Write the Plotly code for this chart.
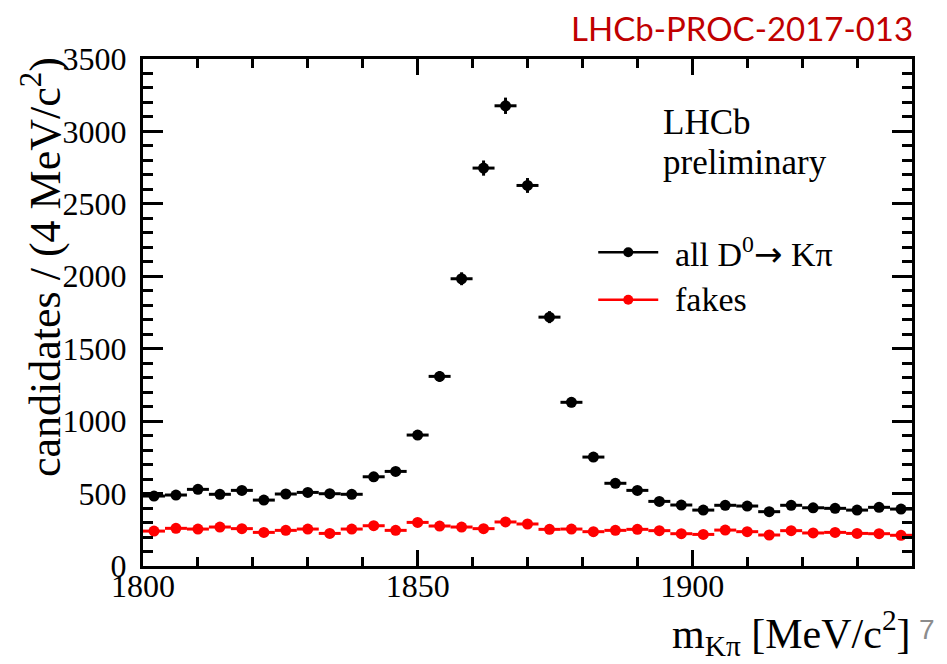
import numpy as np
import plotly.graph_objects as go

# Bin centres of the K-pi invariant mass histogram (4 MeV/c^2 bins)
mass = [1802, 1806, 1810, 1814, 1818, 1822, 1826, 1830, 1834, 1838,
        1842, 1846, 1850, 1854, 1858, 1862, 1866, 1870, 1874, 1878,
        1882, 1886, 1890, 1894, 1898, 1902, 1906, 1910, 1914, 1918,
        1922, 1926, 1930, 1934, 1938]

# Candidates per bin: all D0 -> K pi
all_d0 = [483, 490, 529, 495, 522, 455, 497, 508, 499, 495,
          616, 653, 904, 1309, 1983, 2747, 3177, 2627, 1718, 1130,
          752, 571, 522, 446, 421, 386, 419, 414, 375, 419,
          402, 398, 386, 405, 393]

# Candidates per bin: fakes
fakes = [241, 260, 255, 269, 258, 232, 246, 255, 225, 255,
         278, 246, 301, 276, 269, 258, 304, 290, 253, 255,
         237, 246, 253, 244, 223, 218, 248, 237, 214, 244,
         228, 232, 225, 223, 212]

bin_half_width = 2
ARROW = '<span style="font-family:DejaVu Sans">→</span>'
series = [("all D<sup>0</sup>" + ARROW + " Kπ", all_d0, "#000000"),
          ("fakes", fakes, "#ff0000")]

SERIF = "Liberation Serif"

fig = go.Figure()
for name, counts, color in series:
    fig.add_trace(go.Scatter(
        x=mass, y=counts, mode="markers", name=name, showlegend=False,
        marker=dict(color=color, size=11, line=dict(width=0)),
        error_x=dict(type="constant", value=bin_half_width, color=color,
                     thickness=3, width=0),
        error_y=dict(type="data", array=np.sqrt(counts), color=color,
                     thickness=3, width=0),
    ))

axis_common = dict(
    showline=True, linewidth=3, linecolor="black", mirror="allticks",
    ticks="inside", tickwidth=3, tickcolor="black",
    showgrid=False, zeroline=False,
    tickfont=dict(family=SERIF, size=32, color="black"),
)

fig.update_xaxes(range=[1800, 1940], tick0=1800, dtick=50, ticklen=16,
                 minor=dict(dtick=10, ticklen=9, tickwidth=3,
                            ticks="inside", tickcolor="black"),
                 ticklabelstandoff=-10, **axis_common)
fig.update_yaxes(range=[0, 3500], tick0=0, dtick=500, ticklen=20,
                 minor=dict(dtick=100, ticklen=10, tickwidth=3,
                            ticks="inside", tickcolor="black"),
                 ticklabelstandoff=7, **axis_common)

# Hand-made legend: a line with a dot, then the label
legend_rows = [0.619, 0.525]
shapes = []
annotations = []
for (name, _, color), row in zip(series, legend_rows):
    shapes.append(dict(type="line", xref="paper", yref="paper",
                       xsizemode="pixel", xanchor=0.631, x0=-30, x1=30,
                       y0=row, y1=row, line=dict(color=color, width=2.5)))
    shapes.append(dict(type="circle", xref="paper", yref="paper",
                       xsizemode="pixel", ysizemode="pixel",
                       xanchor=0.631, yanchor=row, x0=-5, x1=5, y0=-5, y1=5,
                       fillcolor=color, line=dict(width=0)))
    annotations.append(dict(text=name, xref="paper", yref="paper",
                            x=0.689, y=row, xanchor="left", yanchor="middle",
                            showarrow=False,
                            font=dict(family=SERIF, size=34, color="black")))

annotations += [
    dict(text="LHCb", xref="paper", yref="paper", x=0.6736, y=0.8757,
         xanchor="left", yanchor="middle", showarrow=False,
         font=dict(family=SERIF, size=35, color="black")),
    dict(text="preliminary", xref="paper", yref="paper", x=0.6736, y=0.795,
         xanchor="left", yanchor="middle", showarrow=False,
         font=dict(family=SERIF, size=35, color="black")),
    dict(text="candidates / (4 MeV/c<sup>2</sup>)", xref="paper", yref="paper",
         x=-0.1313, y=1.0079, xanchor="center", yanchor="top", textangle=-90,
         showarrow=False, font=dict(family=SERIF, size=44, color="black")),
    dict(text="m<sub>Kπ</sub> [MeV/c<sup>2</sup>]", xref="paper", yref="paper",
         x=1.0013, y=-0.132, xanchor="right", yanchor="middle",
         showarrow=False, font=dict(family=SERIF, size=42, color="black")),
    dict(text="LHCb-PROC-2017-013", xref="paper", yref="paper",
         x=1.0039, y=1.061, xanchor="right", yanchor="middle",
         showarrow=False, font=dict(family="Lato", size=33,
                                    color="#c00000")),
    dict(text="7", xref="paper", yref="paper", x=1.0195, y=-0.126,
         xanchor="center", yanchor="middle", showarrow=False,
         font=dict(family="Liberation Sans", size=28, color="#8c8c8c")),
]

fig.update_layout(
    width=947, height=664,
    margin=dict(l=143, r=35, t=59, b=98),
    paper_bgcolor="white", plot_bgcolor="white",
    font=dict(family=SERIF, color="black"),
    showlegend=False,
    shapes=shapes, annotations=annotations,
)

fig.write_html("out.html")
